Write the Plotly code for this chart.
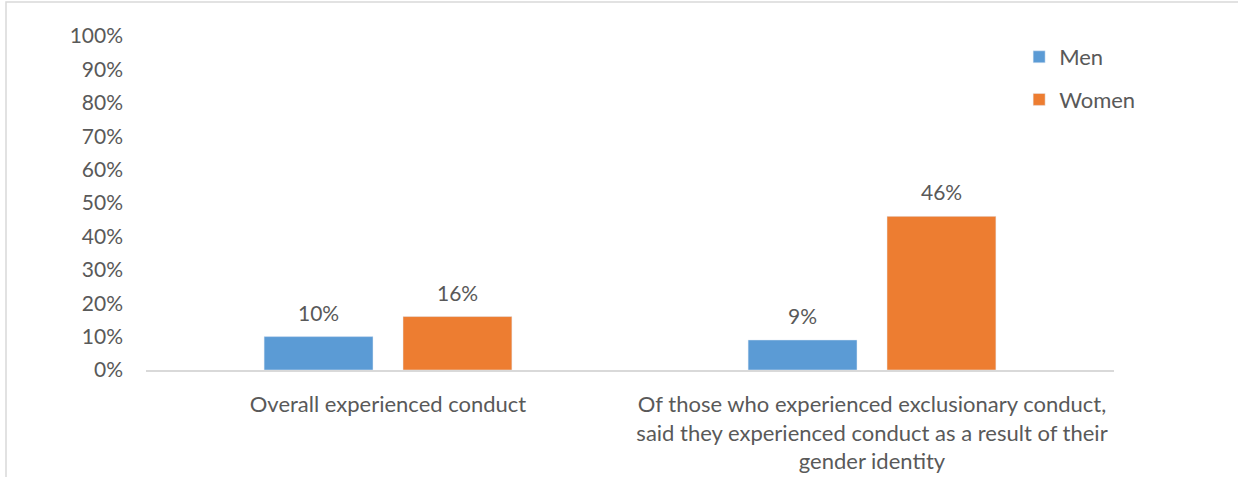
import plotly.graph_objects as go

categories = [
    "Overall experienced conduct",
    "Of those who experienced exclusionary conduct,<br>said they experienced conduct as a result of their<br>gender identity",
]
men = [0.10, 0.09]
women = [0.16, 0.46]
tick_vals = [i / 10 for i in range(11)]
tick_text = [f"{i * 10}%" for i in range(11)]

MEN_COLOR = "#5b9bd5"
WOMEN_COLOR = "#ed7d31"
TEXT_COLOR = "#595959"
FONT = "Lato, Calibri, sans-serif"

BARGAP = 0.426
offset = (1 - BARGAP) / 4

fig = go.Figure()
fig.add_trace(go.Bar(name="Men", x=categories, y=men, marker_color=MEN_COLOR,
                     legendgroup="m"))
fig.add_trace(go.Bar(name="Women", x=categories, y=women, marker_color=WOMEN_COLOR,
                     legendgroup="w"))

# value labels above each bar
annotations = []
for i, (m, w) in enumerate(zip(men, women)):
    for dx, v in ((-offset, m), (offset, w)):
        annotations.append(dict(
            x=i + dx, y=v, xref="x", yref="y", text=f"{round(v * 100)}%",
            showarrow=False, yanchor="bottom", yshift=10,
            font=dict(family=FONT, size=21, color=TEXT_COLOR),
        ))

fig.update_layout(
    width=1238, height=477,
    margin=dict(l=146, r=124, t=36, b=107),
    paper_bgcolor="white", plot_bgcolor="white",
    barmode="group", bargap=BARGAP, bargroupgap=0.216,
    font=dict(family=FONT, size=21, color=TEXT_COLOR),
    showlegend=True,
    legend=dict(x=0.902, y=1.0, xanchor="left", yanchor="top",
                font=dict(family=FONT, size=22, color=TEXT_COLOR),
                tracegroupgap=11, traceorder="grouped",
                bgcolor="rgba(0,0,0,0)"),
    annotations=annotations,
    shapes=[dict(type="rect", xref="paper", yref="paper",
                 x0=(6 - 146) / 968, x1=(1300 - 146) / 968,
                 y0=-0.5, y1=1 + (36 - 2) / 334,
                 line=dict(color="#d9d9d9", width=1.5), layer="below")],
)
fig.update_xaxes(showline=True, linecolor="#d9d9d9", linewidth=1.5,
                 showgrid=False, ticks="", ticklabelstandoff=14,
                 automargin=False,
                 tickfont=dict(family=FONT, size=22, color=TEXT_COLOR))
fig.update_yaxes(range=[0, 1], tickvals=tick_vals, ticktext=tick_text,
                 showgrid=False, zeroline=False, showline=False, ticks="",
                 ticklabelstandoff=22, automargin=False,
                 tickfont=dict(family=FONT, size=21, color=TEXT_COLOR))

fig.write_html("out.html")
